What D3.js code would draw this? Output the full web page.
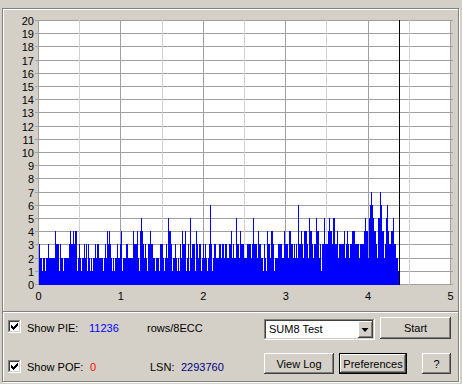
<!DOCTYPE html>
<html><head><meta charset="utf-8">
<script src="https://cdn.jsdelivr.net/npm/d3@7/dist/d3.min.js"></script>
<style>
html,body{margin:0;padding:0;background:#d4d0c8;overflow:hidden}
svg{display:block;font-family:"Liberation Sans",Arial,sans-serif;font-size:11px}
</style>
</head><body>
<svg id="c" width="462" height="384"></svg>
<script>
// ---- data ----
const yTickLabels = [0,1,2,3,4,5,6,7,8,9,10,11,12,13,14,15,16,17,18,19,20];
const xTickLabels = [0,1,2,3,4,5];
const xHalfGrid = [0.5,1.5,2.5,3.5,4.5];
const sampleStart = 0.0121;   // GB position of first sample
const sampleStep = 0.01214;   // GB between samples
const pieValues = [
 3,2,2,1,2,2,1,2,2,3, 2,2,2,2,2,2,4,3,3,3, 1,3,2,2,1,2,2,2,2,2,
 3,4,3,3,4,3,4,4,1,2, 3,2,1,2,2,3,2,3,1,3, 2,1,2,1,2,2,3,2,3,3,
 2,2,2,2,1,2,3,2,4,3, 4,3,2,1,2,1,2,2,3,2, 2,3,4,1,2,2,2,3,3,2,
 2,2,2,2,4,3,3,3,4,2, 1,4,5,4,3,2,3,2,1,3, 3,4,3,3,2,2,1,2,2,2,
 1,3,3,3,2,1,2,3,2,5, 4,4,3,1,2,2,3,2,1,2, 1,3,2,4,3,3,4,1,2,3,
 1,5,2,3,3,3,1,4,3,2, 3,3,1,2,3,2,3,2,1,2, 3,6,3,1,2,3,3,2,2,2,
 3,3,2,3,3,2,3,3,2,2, 3,3,4,2,3,2,2,5,3,3, 2,4,3,3,3,2,2,2,3,3,
 3,3,2,3,5,3,3,3,2,4, 3,3,2,2,1,3,2,1,4,3, 3,2,4,4,3,1,2,2,2,3,
 3,3,3,2,2,4,3,3,3,2, 4,4,3,3,2,3,2,3,2,6, 3,3,4,3,2,4,4,4,3,2,
 5,4,4,3,2,3,3,5,4,4, 2,3,1,3,3,5,3,3,3,4, 5,4,4,3,5,5,3,3,4,2,
 3,3,3,3,3,4,2,3,4,3, 2,3,3,4,4,4,3,3,3,3, 2,3,3,3,3,4,5,4,4,2,
 5,6,7,6,5,4,4,3,2,5, 5,7,6,4,4,2,3,5,6,4, 3,3,4,4,5,3,3,2,2,1
];
const lsnMarker = 4.385;
const pieCount = "11236";
const pofCount = "0";
const lsnValue = "2293760";
const testModes = ["SUM8 Test"];

// ---- drawing ----
const svg = d3.select("#c");
const BG = "#d4d0c8", DK = "#808080", DDK = "#404040";
svg.append("rect").attr("width",462).attr("height",384).attr("fill",BG);

const x = d3.scaleLinear().domain([0,5]).range([38,450]);
const y = d3.scaleLinear().domain([0,20]).range([284,20]);
const px = v => Math.round(x(v)) + 0.5;
const py = v => Math.round(y(v)) + 0.5;

// group box (etched)
svg.append("rect").attr("x",3.5).attr("y",9.5).attr("width",456).attr("height",373).attr("fill","none").attr("stroke","#fff");
svg.append("rect").attr("x",2.5).attr("y",8.5).attr("width",456).attr("height",373).attr("fill","none").attr("stroke",DK);
svg.append("line").attr("x1",3).attr("x2",458).attr("y1",311.5).attr("y2",311.5).attr("stroke",DK);
svg.append("line").attr("x1",3).attr("x2",458).attr("y1",312.5).attr("y2",312.5).attr("stroke","#fff");

// plot background
svg.append("rect").attr("x",x(0)).attr("y",y(20)).attr("width",x(5)-x(0)).attr("height",y(0)-y(20)+1).attr("fill","#fff");

const grid = svg.append("g").attr("shape-rendering","crispEdges");
grid.selectAll("line.h").data(yTickLabels).join("line").attr("class","h")
  .attr("x1",35).attr("x2",453).attr("y1",d=>py(d)).attr("y2",d=>py(d)).attr("stroke","#a0a0a0");
grid.selectAll("line.vh").data(xHalfGrid).join("line").attr("class","vh")
  .attr("x1",d=>px(d)).attr("x2",d=>px(d)).attr("y1",y(20)).attr("y2",y(0)+1).attr("stroke","#d0d0d0");
grid.selectAll("line.v").data(xTickLabels).join("line").attr("class","v")
  .attr("x1",d=>px(d)).attr("x2",d=>px(d)).attr("y1",y(20)).attr("y2",y(0)+1).attr("stroke","#a0a0a0");

// PIE area
const pts = pieValues.map((v,i)=>({g: sampleStart + i*sampleStep, v}));
pts.push({g: sampleStart + pieValues.length*sampleStep, v: pieValues[pieValues.length-1]});
const area = d3.area()
  .x(d=>Math.round(x(d.g)))
  .y0(Math.round(y(0))+1)
  .y1(d=>Math.round(y(d.v)))
  .curve(d3.curveStepAfter);
svg.append("path").datum(pts).attr("d",area).attr("fill","#0000ff").attr("shape-rendering","crispEdges");

// LSN marker
svg.append("line").attr("x1",px(lsnMarker)).attr("x2",px(lsnMarker)).attr("y1",y(20)).attr("y2",y(0)+1)
  .attr("stroke","#000").attr("shape-rendering","crispEdges");

// axis labels
svg.selectAll("text.yl").data(yTickLabels).join("text").attr("class","yl")
  .attr("x",34).attr("y",d=>Math.round(y(d))+4.5).attr("text-anchor","end").text(d=>d);
svg.selectAll("text.xl").data(xTickLabels).join("text").attr("class","xl")
  .attr("x",d=>x(d)+0.5).attr("y",300).attr("text-anchor","middle").text(d=>d);

// ---- controls ----
const checkBits = ["......x",".....xx","x...xxx","xx.xxx.","xxxxx..",".xxx...","..x...."];
function checkbox(cx, cy){
  const g = svg.append("g").attr("shape-rendering","crispEdges");
  g.append("rect").attr("x",cx).attr("y",cy).attr("width",13).attr("height",13).attr("fill","#fff");
  g.append("path").attr("d",`M${cx+0.5},${cy+12}V${cy+0.5}H${cx+12}`).attr("stroke",DK).attr("fill","none");
  g.append("path").attr("d",`M${cx+1.5},${cy+11}V${cy+1.5}H${cx+11}`).attr("stroke",DDK).attr("fill","none");
  g.append("path").attr("d",`M${cx},${cy+12.5}H${cx+12.5}V${cy}`).attr("stroke","#fff").attr("fill","none");
  g.append("path").attr("d",`M${cx+1},${cy+11.5}H${cx+11.5}V${cy+1}`).attr("stroke",BG).attr("fill","none");
  checkBits.forEach((row,r)=>{[...row].forEach((c,k)=>{ if(c==="x") g.append("rect").attr("x",cx+3+k).attr("y",cy+3+r).attr("width",1).attr("height",1).attr("fill","#000");});});
}
function button(bx, by, w, h, label, isDefault){
  const g = svg.append("g").attr("shape-rendering","crispEdges");
  g.append("rect").attr("x",bx).attr("y",by).attr("width",w).attr("height",h).attr("fill",BG);
  let X=bx, Y=by, W=w, H=h;
  if(isDefault){
    g.append("rect").attr("x",bx+0.5).attr("y",by+0.5).attr("width",w-1).attr("height",h-1).attr("fill","none").attr("stroke","#000");
    X+=1; Y+=1; W-=2; H-=2;
  }
  g.append("path").attr("d",`M${X+0.5},${Y+H-1}V${Y+0.5}H${X+W-1}`).attr("stroke","#fff").attr("fill","none");
  g.append("path").attr("d",`M${X},${Y+H-0.5}H${X+W-0.5}V${Y}`).attr("stroke",DDK).attr("fill","none");
  g.append("path").attr("d",`M${X+1},${Y+H-1.5}H${X+W-1.5}V${Y+1}`).attr("stroke",DK).attr("fill","none");
  if(label) svg.append("text").attr("x",bx+w/2).attr("y",by+14.5).attr("text-anchor","middle").text(label);
  return g;
}

checkbox(8,320);
checkbox(8,360);
svg.append("text").attr("x",27).attr("y",332).text("Show PIE:");
svg.append("text").attr("x",89).attr("y",332).attr("fill","#0000ff").text(pieCount);
svg.append("text").attr("x",147).attr("y",332).text("rows/8ECC");
svg.append("text").attr("x",27).attr("y",371).text("Show POF:");
svg.append("text").attr("x",90).attr("y",371).attr("fill","#ff0000").text(pofCount);
svg.append("text").attr("x",150).attr("y",371).text("LSN:");
svg.append("text").attr("x",181).attr("y",371).attr("fill","#000080").text(lsnValue);

// dropdown
(function(){
  const dx=264, dy=319, w=111, h=21;
  const g = svg.append("g").attr("shape-rendering","crispEdges");
  g.append("rect").attr("x",dx).attr("y",dy).attr("width",w).attr("height",h).attr("fill","#fff");
  g.append("path").attr("d",`M${dx+0.5},${dy+h-1}V${dy+0.5}H${dx+w-1}`).attr("stroke",DK).attr("fill","none");
  g.append("path").attr("d",`M${dx+1.5},${dy+h-2}V${dy+1.5}H${dx+w-2}`).attr("stroke",DDK).attr("fill","none");
  g.append("path").attr("d",`M${dx},${dy+h-0.5}H${dx+w-0.5}V${dy}`).attr("stroke","#fff").attr("fill","none");
  g.append("path").attr("d",`M${dx+1},${dy+h-1.5}H${dx+w-1.5}V${dy+1}`).attr("stroke",BG).attr("fill","none");
  svg.append("text").attr("x",dx+5).attr("y",dy+14).text(testModes[0]);
  button(dx+w-17, dy+2, 15, h-4, null, false);
  const ax = dx+w-10, ay = dy+9;
  svg.append("path").attr("d",`M${ax-3.5},${ay}H${ax+3.5}L${ax},${ay+4}Z`).attr("fill","#000");
})();

button(380,317,71,22,"Start",false);
button(264,353,70,21,"View Log",false);
button(339,353,68,21,"Preferences",true);
button(422,353,29,21,"?",false);
</script>
</body></html>
